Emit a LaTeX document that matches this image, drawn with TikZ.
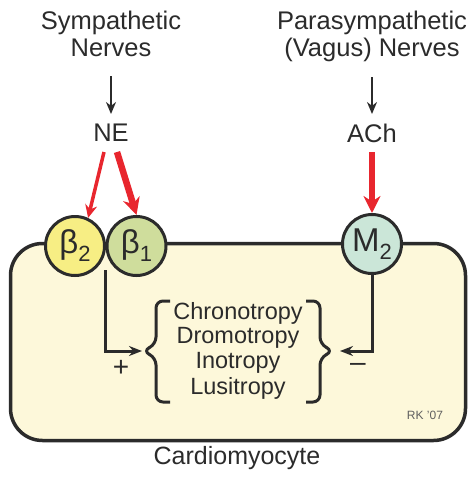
\documentclass[tikz,border=0pt]{standalone}
\usepackage{fontspec}
\setmainfont{Liberation Sans}
\usetikzlibrary{arrows.meta}
\definecolor{cellfill}{HTML}{FDF8DA}
\definecolor{linecol}{HTML}{2B2B2B}
\definecolor{redarr}{HTML}{E8262E}
\definecolor{btwo}{HTML}{F7EE84}
\definecolor{bone}{HTML}{CFDD9C}
\definecolor{mtwo}{HTML}{CBE6D8}
\tikzset{
  lbl/.style={font=\fontsize{25.5}{29}\selectfont, text=linecol, align=center, inner sep=0pt},
  eff/.style={font=\fontsize{23.5}{26}\selectfont, text=linecol, align=center, inner sep=0pt},
  blackarr/.style={draw=linecol, line width=2.6pt, -{Stealth[length=12pt,width=10pt]}},
  thinred/.style={draw=redarr, line width=3.5pt, -{Stealth[length=13pt,width=12pt]}},
  thickred/.style={draw=redarr, line width=6.5pt, -{Stealth[length=17pt,width=17pt]}},
  receptor/.style={circle, draw=linecol, line width=3pt, minimum size=59pt, inner sep=0pt, font=\fontsize{33}{33}\selectfont, text=linecol},
  path1/.style={draw=linecol, line width=3pt},
  feedarr/.style={draw=linecol, line width=3pt, -{Stealth[length=13pt,width=10pt]}},
}
\newcommand{\sub}[1]{\raisebox{-8pt}{\fontsize{22}{22}\selectfont #1}}
\begin{document}
\begin{tikzpicture}[x=1pt,y=-1pt]
\useasboundingbox (0,0) rectangle (474,477);
% cell
\node (cell) [draw=linecol, line width=3.5pt, fill=cellfill, rounded corners=32pt, minimum width=455pt, minimum height=197pt, inner sep=0pt] at (238,342) {};
% top labels
\node (symp) [lbl] at (111,34) {Sympathetic\\[-2pt]Nerves};
\node (para) [lbl] at (372,36) {Parasympathetic\\[-2pt](Vagus) Nerves};
\node (ne) [lbl] at (111,133) {NE};
\node (ach) [lbl] at (372,133) {ACh};
\coordinate (s1) at (111,76);
\coordinate (p1) at (372,77);
\draw[blackarr] (s1) -- (ne.north |- 0,114);
\draw[blackarr] (p1) -- (ach.north |- 0,114);
% receptors
\node (b2) [receptor, fill=btwo] at (75,246) {β\sub{2}};
\node (b1) [receptor, fill=bone] at (136.5,246) {β\sub{1}};
\node (m2) [receptor, fill=mtwo] at (372,244) {M\sub{2}};
% red arrows
\coordinate (ne1) at (104,152);
\coordinate (ne2) at (117,152);
\coordinate (ach1) at (372,152);
\draw[thinred] (ne1) -- (b2.65);
\draw[thickred] (ne2) -- (b1.north);
\draw[thickred] (ach1) -- (m2.north);
% effects
\node (e1) [eff] at (238,313) {Chronotropy};
\node (e2) [eff] at (238,338) {Dromotropy};
\node (e3) [eff] at (238,363) {Inotropy};
\node (e4) [eff] at (238,388) {Lusitropy};
% braces
\coordinate (lb) at (143,351);
\coordinate (rb) at (336,351);
\draw[path1, rounded corners=7pt] (170,301) -- (156,301) -- (156,344) -- (lb) -- (156,358) -- (156,402) -- (170,402);
\draw[path1, rounded corners=7pt] (306,301) -- (320,301) -- (320,344) -- (333,351) -- (320,358) -- (320,402) -- (306,402);
% feedback lines
\coordinate (j) at (105.5,270);
\draw[feedarr] (j) |- ([xshift=-1pt]lb);
\draw[feedarr] (m2.south) |- ([xshift=4pt]rb);
\node (plus) [lbl, font=\fontsize{28}{28}\selectfont] at (121,368) {+};
\node (minus) [lbl, font=\fontsize{28}{28}\selectfont] at (358,367) {–};
\node (rk) [font=\fontsize{12}{12}\selectfont, text=linecol!75, inner sep=0pt] at (425,415) {RK '07};
\node (cardio) [eff, font=\fontsize{25}{28}\selectfont] at (237,458) {Cardiomyocyte};
\end{tikzpicture}
\end{document}
